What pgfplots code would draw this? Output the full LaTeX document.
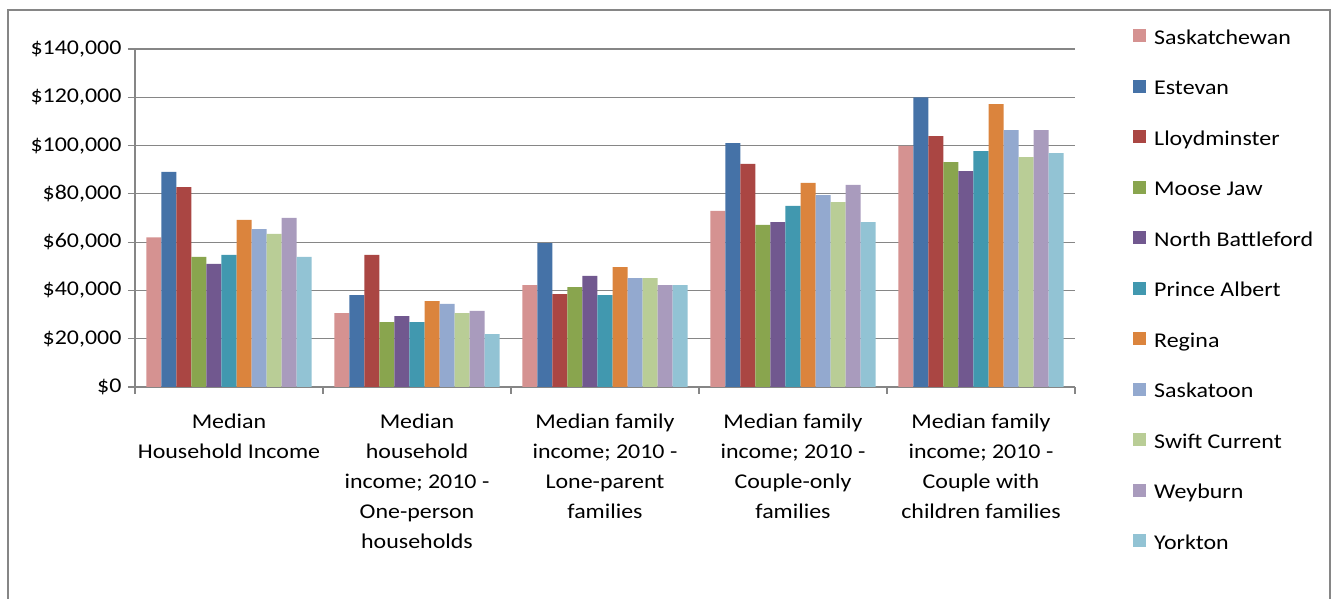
\documentclass[border=0pt]{standalone}
\usepackage{pgfplots}
\pgfplotsset{compat=1.18}
\usepackage{pgfplotstable}
\usepackage{fontspec}
\setmainfont{Carlito}[FakeStretch=1.14]
\definecolor{cSask}{HTML}{D59291}
\definecolor{cEst}{HTML}{4572A7}
\definecolor{cLloyd}{HTML}{AA4643}
\definecolor{cMoose}{HTML}{89A54E}
\definecolor{cNB}{HTML}{71588F}
\definecolor{cPA}{HTML}{4198AF}
\definecolor{cReg}{HTML}{DB843D}
\definecolor{cSaskatoon}{HTML}{93A9CF}
\definecolor{cSwift}{HTML}{B9CD96}
\definecolor{cWey}{HTML}{A99BBD}
\definecolor{cYork}{HTML}{92C3D4}
\definecolor{gridgray}{RGB}{134,134,134}
\definecolor{framegray}{RGB}{134,134,134}

\pgfplotstableread{
x Sask Estevan Lloyd Moose NB PA Regina Saskatoon Swift Weyburn Yorkton
0 62000 89100 82800 53900 51000 54700 69200 65400 63400 70000 53900
1 30600 38100 54700 26900 29400 26900 35600 34400 30600 31500 21900
2 42200 59600 38500 41400 46000 38100 49700 45100 45100 42200 42200
3 72900 101000 92400 67100 68300 75000 84500 79500 76600 83700 68300
4 99900 120000 103900 93100 89400 97700 117200 106400 95200 106400 96900
}\datatable

\begin{document}
\begin{tikzpicture}
\useasboundingbox (0,0) rectangle (1331pt,599pt);
\draw[color=framegray, line width=1.3pt] (8pt,-20pt) rectangle (1330pt,589pt);
\begin{axis}[
  at={(135pt,212pt)}, anchor=south west,
  scale only axis, width=940pt, height=338pt,
  ybar=0pt, bar width=0.08,
  xmin=-0.5, xmax=4.5, ymin=0, ymax=140000,
  axis lines*=left,
  axis line style={color=gridgray, line width=1.2pt},
  ymajorgrids, major grid style={color=gridgray, line width=1.2pt},
  tick align=outside, major tick length=7pt,
  tick style={color=gridgray, line width=1.2pt},
  ytick={0,20000,...,140000},
  scaled y ticks=false,
  /pgf/number format/assume math mode=true,
  yticklabel={\$\pgfmathprintnumber[fixed,precision=0,1000 sep={,}]{\tick}},
  yticklabel style={xshift=-3pt},
  xtick={-0.5,0.5,1.5,2.5,3.5,4.5},
  xticklabels={},
  extra x ticks={0,1,2,3,4},
  extra x tick labels={{Median\\Household Income},{Median\\household\\income; 2010 -\\One-person\\households},{Median family\\income; 2010 -\\Lone-parent\\families},{Median family\\income; 2010 -\\Couple-only\\families},{Median family\\income; 2010 -\\Couple with\\children families}},
  extra x tick style={major tick length=0pt},
  xticklabel style={align=center, anchor=north, yshift=-23pt},
  tick label style={font=\fontsize{21}{30}\selectfont, text=black},
  legend image code/.code={\fill[#1] (0pt,-3pt) rectangle (13pt,10pt);},
  legend cell align=left,
  legend style={at={(rel axis cs:1,1)}, anchor=north west, xshift=58pt, yshift=20pt,
    draw=none, fill=none, inner sep=0pt, row sep=30pt,
    font=\fontsize{21}{30}\selectfont,
    nodes={inner sep=0pt, text height=15pt, text depth=5.5pt},
    /tikz/every odd column/.append style={column sep=8pt}},
]
\addplot[fill=cSask, draw=none] table[x=x,y=Sask]{\datatable};
\addplot[fill=cEst, draw=none] table[x=x,y=Estevan]{\datatable};
\addplot[fill=cLloyd, draw=none] table[x=x,y=Lloyd]{\datatable};
\addplot[fill=cMoose, draw=none] table[x=x,y=Moose]{\datatable};
\addplot[fill=cNB, draw=none] table[x=x,y=NB]{\datatable};
\addplot[fill=cPA, draw=none] table[x=x,y=PA]{\datatable};
\addplot[fill=cReg, draw=none] table[x=x,y=Regina]{\datatable};
\addplot[fill=cSaskatoon, draw=none] table[x=x,y=Saskatoon]{\datatable};
\addplot[fill=cSwift, draw=none] table[x=x,y=Swift]{\datatable};
\addplot[fill=cWey, draw=none] table[x=x,y=Weyburn]{\datatable};
\addplot[fill=cYork, draw=none] table[x=x,y=Yorkton]{\datatable};
\legend{Saskatchewan,Estevan,Lloydminster,Moose Jaw,North Battleford,Prince Albert,Regina,Saskatoon,Swift Current,Weyburn,Yorkton}
\end{axis}
\end{tikzpicture}
\end{document}
